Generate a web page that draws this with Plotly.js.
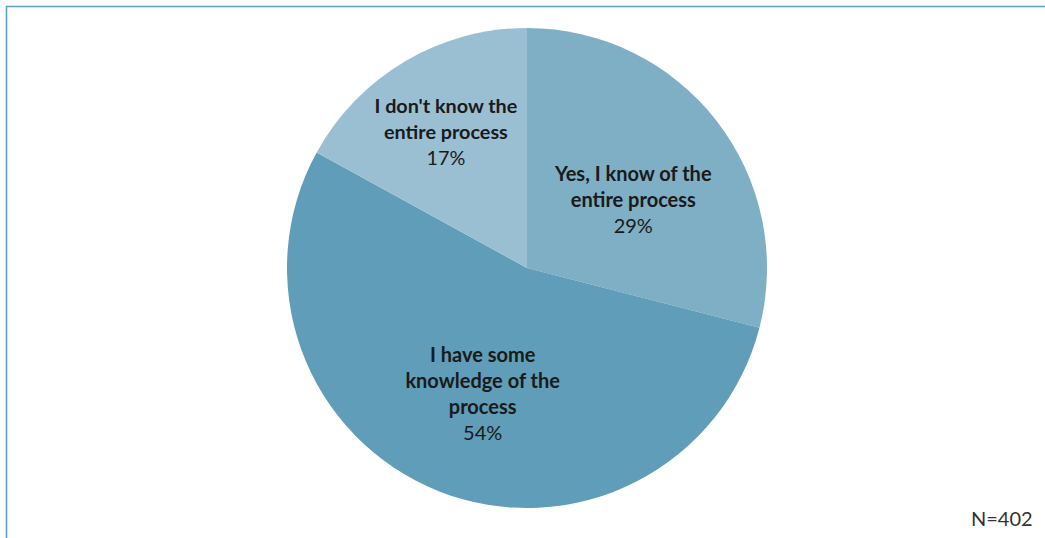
<!DOCTYPE html>
<html>
<head>
<meta charset="utf-8">
<script src="https://cdn.plot.ly/plotly-3.0.1.min.js"></script>
<style>html,body{margin:0;padding:0;background:#fff;}#chart{width:1045px;height:538px;}</style>
</head>
<body>
<div id="chart"></div>
<script>
const categories = ["Yes, I know of the<br>entire process", "I have some<br>knowledge of the<br>process", "I don't know the<br>entire process"];
const shares = [29, 54, 17];
const sliceColors = ["#7EAFC5", "#5F9DB8", "#9ABFD3"];
const sampleNote = "N=402";

const W = 1045, H = 538;
const cx = 527, cy = 268, r = 240;

// spacer line above some labels to nudge them down like the original
const spacer = [true, true, false];
const templates = spacer.map(s => (s ? "\u00a0<br>" : "") + "<b>%{label}</b><br>%{value}%");

const trace = {
  type: "pie",
  labels: categories,
  values: shares,
  sort: false,
  direction: "clockwise",
  rotation: 0,
  marker: {colors: sliceColors, line: {width: 0}},
  texttemplate: templates,
  textposition: "inside",
  insidetextorientation: "horizontal",
  textfont: {family: "Lato, 'Open Sans', sans-serif", size: 20, color: "#1a1a1a"},
  hoverinfo: "none",
  showlegend: false,
  domain: {x: [(cx - r) / W, (cx + r) / W], y: [(H - cy - r) / H, (H - cy + r) / H]}
};

const layout = {
  width: W, height: H,
  margin: {l: 0, r: 0, t: 0, b: 0},
  paper_bgcolor: "#ffffff",
  showlegend: false,
  shapes: [{
    type: "rect", xref: "paper", yref: "paper",
    x0: 6.5 / W, x1: 1.2, y0: -0.2, y1: (H - 6.5) / H,
    line: {color: "#5AA3C8", width: 1.6}
  }],
  annotations: [{
    text: sampleNote, xref: "paper", yref: "paper",
    x: 1002 / W, y: (H - 518) / H, xanchor: "center", yanchor: "middle",
    showarrow: false,
    font: {family: "Lato, 'Open Sans', sans-serif", size: 20, color: "#333333"}
  }]
};

Plotly.newPlot("chart", [trace], layout, {displayModeBar: false, staticPlot: true});
</script>
</body>
</html>
